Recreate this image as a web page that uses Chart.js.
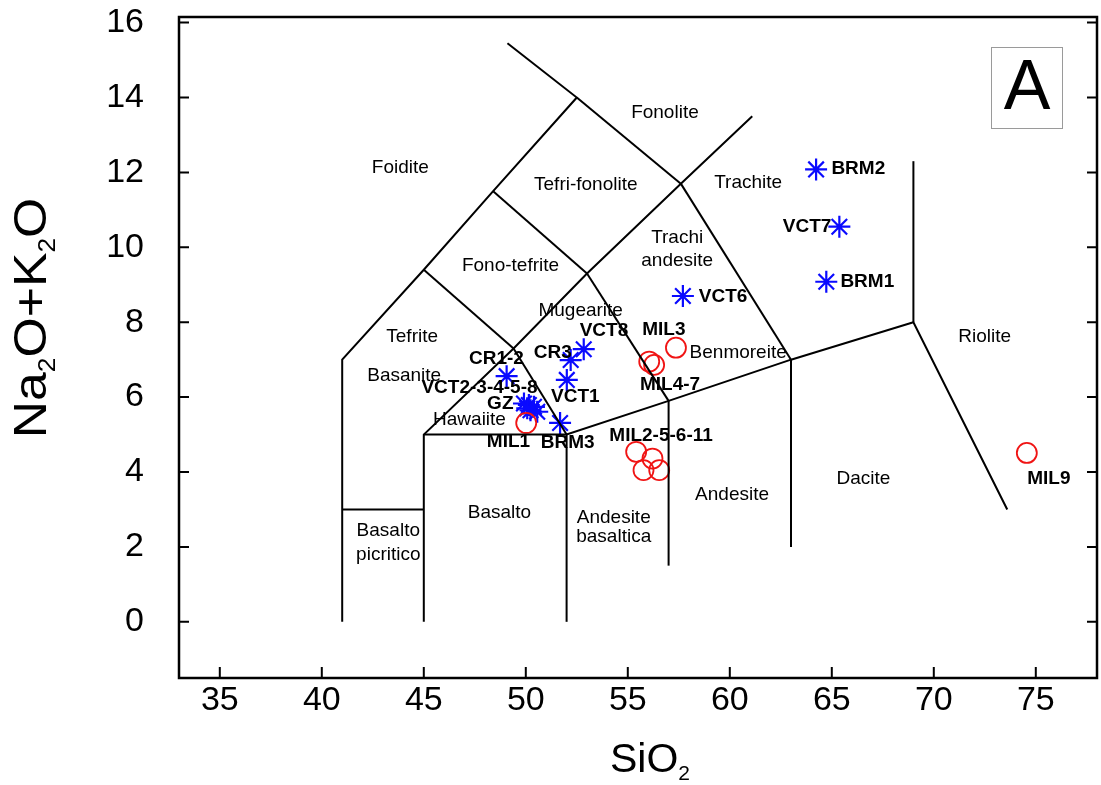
<!DOCTYPE html>
<html>
<head>
<meta charset="utf-8">
<script src="https://cdn.jsdelivr.net/npm/chart.js@4.4.1/dist/chart.umd.min.js"></script>
<style>
  html, body { margin: 0; padding: 0; background: #fff; }
</style>
</head>
<body>
<canvas id="tasChart" width="1101" height="785"></canvas>
<script>
// samples plotted as blue asterisks (SiO2 vs Na2O+K2O)
const starNames = ["BRM2", "VCT7", "BRM1", "VCT6", "VCT8", "CR3", "VCT1", "CR1-2",
  "GZ", "VCT2", "VCT3", "VCT4", "VCT5", "VCT8b", "BRM3"];
const starSiO2 = [64.23, 65.37, 64.73, 57.70, 52.84, 52.20, 52.01, 49.06,
  49.91, 50.15, 50.40, 50.23, 50.07, 50.56, 51.68];
const starAlk = [12.08, 10.55, 9.08, 8.70, 7.28, 6.99, 6.46, 6.56,
  5.83, 5.79, 5.74, 5.65, 5.70, 5.61, 5.31];

// samples plotted as red circles
const circleNames = ["MIL1", "MIL3", "MIL4", "MIL7", "MIL2", "MIL5", "MIL6", "MIL11", "MIL9"];
const circleSiO2 = [50.02, 57.36, 56.05, 56.29, 55.41, 56.21, 55.77, 56.54, 74.56];
const circleAlk = [5.31, 7.32, 6.95, 6.86, 4.54, 4.36, 4.05, 4.05, 4.51];

// TAS field boundaries [SiO2, Na2O+K2O]
const boundaries = [
  [[41, 0], [41, 7], [45, 9.4], [48.4, 11.5], [52.5, 14], [49.1, 15.45]],
  [[41, 3], [45, 3]],
  [[45, 0], [45, 5], [49.4, 7.3], [53, 9.3], [57.6, 11.7], [61.1, 13.5]],
  [[45, 5], [52, 5], [57, 5.9], [63, 7], [69, 8], [73.6, 3]],
  [[52, 0], [52, 5]],
  [[57, 1.5], [57, 5.9]],
  [[63, 2], [63, 7]],
  [[69, 8], [69, 12.3]],
  [[52, 5], [49.4, 7.3]],
  [[57, 5.9], [53, 9.3]],
  [[63, 7], [57.6, 11.7]],
  [[45, 9.4], [49.4, 7.3]],
  [[48.4, 11.5], [53, 9.3]],
  [[52.5, 14], [57.6, 11.7]],
];

const xTicks = [35, 40, 45, 50, 55, 60, 65, 70, 75];
const yTicks = [0, 2, 4, 6, 8, 10, 12, 14, 16];

// field names, placed in data units
const fieldLabels = [
  ["Foidite", 43.85, 12.13], ["Fonolite", 56.82, 13.60], ["Tefri-fonolite", 52.94, 11.68],
  ["Trachite", 60.90, 11.73], ["Trachi", 57.42, 10.26], ["andesite", 57.42, 9.64],
  ["Fono-tefrite", 49.25, 9.51], ["Mugearite", 52.69, 8.30], ["Tefrite", 44.43, 7.61],
  ["Basanite", 44.04, 6.56], ["Hawaiite", 47.24, 5.39], ["Basalto", 48.71, 2.90],
  ["Basalto", 43.26, 2.44], ["picritico", 43.26, 1.80], ["Andesite", 54.31, 2.79],
  ["basaltica", 54.31, 2.28], ["Andesite", 60.11, 3.38], ["Dacite", 66.55, 3.83],
  ["Riolite", 72.49, 7.61], ["Benmoreite", 60.41, 7.18],
];

// sample tags, placed in data units
const sampleLabels = [
  ["BRM2", 66.30, 12.10], ["VCT7", 63.79, 10.56], ["BRM1", 66.74, 9.08],
  ["VCT6", 59.67, 8.68], ["VCT8", 53.83, 7.77], ["MIL3", 56.77, 7.79],
  ["CR3", 51.32, 7.18], ["CR1-2", 48.56, 7.02], ["VCT2-3-4-5-8", 47.73, 6.24],
  ["GZ", 48.75, 5.82], ["VCT1", 52.43, 6.00], ["MIL1", 49.15, 4.82],
  ["BRM3", 52.05, 4.77], ["MIL4-7", 57.07, 6.32], ["MIL2-5-6-11", 56.63, 4.96],
  ["MIL9", 75.64, 3.83],
];

const FONT = "'Liberation Sans', Arial, Helvetica, sans-serif";

const toPoints = (xs, ys) => xs.map((v, i) => ({ x: v, y: ys[i] }));

const lineSets = boundaries.map(seg => ({
  type: "line",
  data: seg.map(p => ({ x: p[0], y: p[1] })),
  borderColor: "#000",
  borderWidth: 2,
  pointRadius: 0,
  fill: false,
  tension: 0,
}));

// draws field names, tags, inward ticks, box and axis titles
const tasPlugin = {
  id: "tas",
  afterDraw(chart) {
    const ctx = chart.ctx;
    const xs = chart.scales.x;
    const ys = chart.scales.y;
    const a = chart.chartArea;
    ctx.save();
    ctx.fillStyle = "#000";
    ctx.textAlign = "center";
    ctx.textBaseline = "middle";

    ctx.font = "19px " + FONT;
    fieldLabels.forEach(l => {
      ctx.fillText(l[0], xs.getPixelForValue(l[1]), ys.getPixelForValue(l[2]));
    });
    ctx.font = "bold 19px " + FONT;
    sampleLabels.forEach(l => {
      ctx.fillText(l[0], xs.getPixelForValue(l[1]), ys.getPixelForValue(l[2]));
    });

    // frame
    ctx.strokeStyle = "#000";
    ctx.lineWidth = 2.5;
    ctx.strokeRect(a.left, a.top, a.right - a.left, a.bottom - a.top);

    // inward tick marks
    ctx.lineWidth = 2;
    ctx.beginPath();
    xs.ticks.forEach(t => {
      const px = xs.getPixelForValue(t.value);
      ctx.moveTo(px, a.bottom);
      ctx.lineTo(px, a.bottom - 11);
    });
    ys.ticks.forEach(t => {
      const py = ys.getPixelForValue(t.value);
      ctx.moveTo(a.left, py);
      ctx.lineTo(a.left + 10, py);
      ctx.moveTo(a.right, py);
      ctx.lineTo(a.right - 10, py);
    });
    ctx.stroke();

    // panel letter
    ctx.strokeStyle = "#9a9a9a";
    ctx.lineWidth = 1;
    ctx.strokeRect(991.5, 47.5, 71, 81);
    ctx.font = "70px " + FONT;
    ctx.fillText("A", 1027, 90);

    // axis titles with subscripts
    const drawSub = (parts, x, y, big, small, drop) => {
      ctx.textAlign = "left";
      ctx.textBaseline = "alphabetic";
      let w = 0;
      parts.forEach(p => {
        ctx.font = (p[1] ? small : big) + "px " + FONT;
        w += ctx.measureText(p[0]).width;
      });
      let cx = x - w / 2;
      parts.forEach(p => {
        ctx.font = (p[1] ? small : big) + "px " + FONT;
        ctx.fillText(p[0], cx, y + (p[1] ? drop : 0));
        cx += ctx.measureText(p[0]).width;
      });
    };
    drawSub([["SiO", 0], ["2", 1]], 650, 772, 41, 21, 8);
    ctx.save();
    ctx.translate(46, 318);
    ctx.rotate(-Math.PI / 2);
    ctx.scale(1.1, 1);
    drawSub([["Na", 0], ["2", 1], ["O+K", 0], ["2", 1], ["O", 0]], 0, 0, 47, 24, 9);
    ctx.restore();
    ctx.restore();
  },
};

new Chart("tasChart", {
  type: "scatter",
  data: {
    datasets: [
      ...lineSets,
      {
        data: toPoints(circleSiO2, circleAlk),
        pointStyle: "circle",
        pointRadius: 10,
        borderColor: "rgb(240, 20, 20)",
        backgroundColor: "rgba(0,0,0,0)",
        borderWidth: 1.8,
      },
      {
        data: toPoints(starSiO2, starAlk),
        pointStyle: "star",
        pointRadius: 11,
        borderColor: "rgb(10, 10, 255)",
        backgroundColor: "rgb(10, 10, 255)",
        borderWidth: 2.2,
      },
    ],
  },
  options: {
    responsive: false,
    animation: false,
    devicePixelRatio: 1,
    layout: { autoPadding: false, padding: { top: 17, right: 4, left: 0, bottom: 0 } },
    plugins: {
      legend: { display: false },
      tooltip: { enabled: false },
    },
    scales: {
      x: {
        type: "linear",
        min: 33,
        max: 78,
        afterBuildTicks: s => { s.ticks = xTicks.map(v => ({ value: v })); },
        afterFit: s => { s.height = 107; s.paddingLeft = 0; s.paddingRight = 0; },
        ticks: { color: "#000", padding: 2, font: { family: FONT, size: 34 } },
        grid: { display: false, drawTicks: false },
        border: { display: false },
      },
      y: {
        type: "linear",
        min: -1.5,
        max: 16.15,
        afterBuildTicks: s => { s.ticks = yTicks.map(v => ({ value: v })); },
        afterFit: s => { s.width = 179; s.paddingTop = 0; s.paddingBottom = 0; },
        ticks: { color: "#000", padding: 35, font: { family: FONT, size: 34 } },
        grid: { display: false, drawTicks: false },
        border: { display: false },
      },
    },
  },
  plugins: [tasPlugin],
});
</script>
</body>
</html>
